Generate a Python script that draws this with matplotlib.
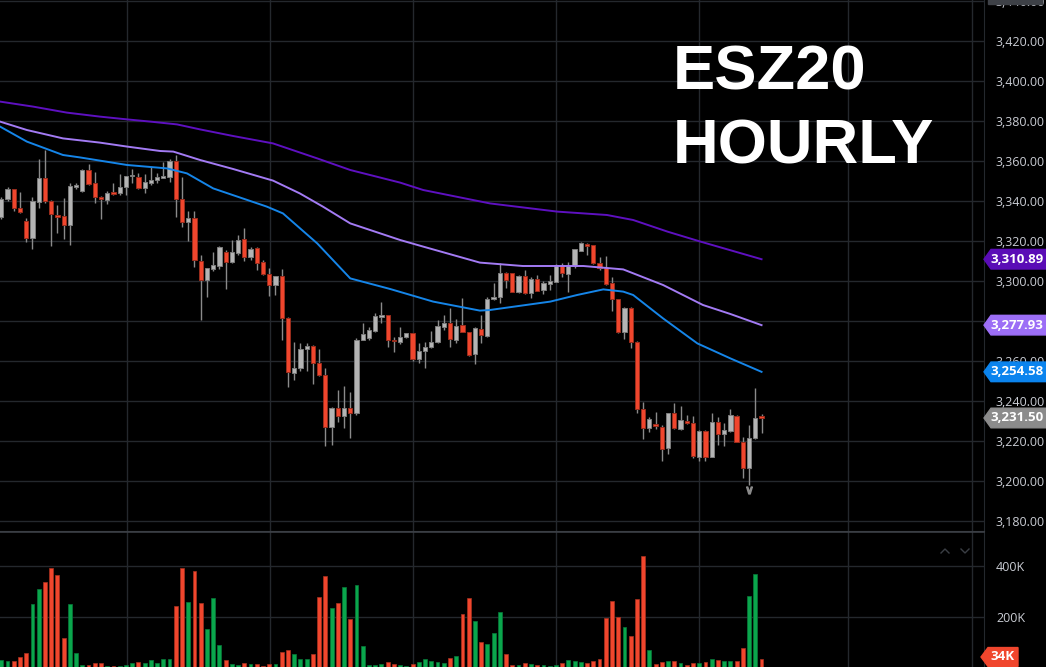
import matplotlib
matplotlib.use("Agg")
import matplotlib.pyplot as plt
import numpy as np
from matplotlib.patches import Polygon, Rectangle
from matplotlib.lines import Line2D

# hourly ESZ20 bars (open, high, low, close)
opens = [3331.8, 3341.2, 3345.8, 3336.3, 3330.2, 3321.7, 3339.7, 3351.7, 3340.0, 3333.2,
         3332.3, 3328.2, 3347.0, 3344.8, 3355.5, 3348.8, 3342.2, 3340.5, 3344.3, 3343.8,
         3346.8, 3352.3, 3352.2, 3346.3, 3349.2, 3350.5, 3351.7, 3352.2, 3360.2, 3340.8,
         3329.3, 3331.5, 3310.2, 3300.5, 3306.0, 3307.7, 3314.3, 3309.3, 3314.2, 3320.8,
         3311.8, 3316.5, 3309.3, 3303.7, 3298.0, 3302.5, 3281.7, 3254.0, 3256.3, 3266.0,
         3267.7, 3258.8, 3253.0, 3227.2, 3236.3, 3232.7, 3236.3, 3233.8, 3270.5, 3271.3,
         3275.2, 3282.2, 3282.8, 3270.5, 3269.7, 3271.8, 3273.8, 3261.2, 3264.8, 3266.8,
         3269.5, 3276.8, 3278.8, 3270.5, 3277.8, 3274.5, 3263.3, 3276.2, 3272.5, 3290.8,
         3291.8, 3303.8, 3303.8, 3294.7, 3302.7, 3294.2, 3300.8, 3295.5, 3298.5, 3299.7,
         3308.2, 3303.5, 3307.5, 3315.2, 3318.5, 3317.8, 3308.8, 3306.3, 3298.8, 3290.8,
         3274.7, 3286.7, 3269.7, 3235.8, 3226.3, 3228.2, 3227.2, 3216.3, 3233.8, 3225.8,
         3230.2, 3229.2, 3212.2, 3225.0, 3212.2, 3229.7, 3223.5, 3225.2, 3232.5, 3219.7,
         3206.3, 3221.3, 3231.8]
highs = [3342.0, 3347.0, 3346.0, 3344.7, 3331.3, 3341.8, 3361.0, 3365.3, 3340.5, 3337.8,
         3341.3, 3348.8, 3349.2, 3355.8, 3358.5, 3354.5, 3342.5, 3345.2, 3349.2, 3353.3,
         3352.5, 3355.8, 3353.8, 3353.3, 3357.2, 3353.8, 3359.7, 3361.0, 3363.0, 3351.8,
         3335.2, 3335.2, 3313.0, 3306.5, 3314.7, 3317.5, 3315.5, 3320.5, 3322.8, 3326.3,
         3317.2, 3317.2, 3310.5, 3306.3, 3302.5, 3306.0, 3282.2, 3269.7, 3268.8, 3268.8,
         3268.0, 3266.0, 3256.3, 3237.2, 3245.5, 3247.7, 3244.7, 3271.3, 3278.8, 3277.2,
         3283.8, 3289.5, 3283.0, 3272.2, 3276.8, 3274.2, 3274.0, 3269.2, 3269.7, 3275.0,
         3280.5, 3282.8, 3286.3, 3281.0, 3291.3, 3274.5, 3277.2, 3283.0, 3291.8, 3298.8,
         3309.2, 3304.7, 3304.0, 3303.0, 3305.5, 3302.2, 3303.0, 3300.0, 3303.0, 3308.5,
         3309.2, 3309.7, 3316.0, 3319.5, 3319.2, 3318.0, 3311.8, 3312.5, 3302.2, 3291.0,
         3286.8, 3287.0, 3270.0, 3239.7, 3232.2, 3234.7, 3228.0, 3234.2, 3238.8, 3237.5,
         3233.0, 3232.5, 3225.5, 3225.5, 3234.2, 3232.2, 3229.2, 3235.8, 3233.0, 3222.2,
         3228.0, 3246.3, 3233.3]
lows = [3331.0, 3340.0, 3335.0, 3333.8, 3319.7, 3315.8, 3336.7, 3338.8, 3317.7, 3323.8,
        3320.8, 3317.8, 3345.8, 3344.5, 3348.0, 3338.8, 3330.8, 3338.5, 3343.0, 3343.0,
        3343.0, 3349.2, 3346.0, 3343.8, 3348.0, 3348.8, 3351.3, 3349.7, 3332.2, 3326.8,
        3320.0, 3306.8, 3280.5, 3291.8, 3305.0, 3306.0, 3295.8, 3308.8, 3313.0, 3310.2,
        3310.5, 3305.5, 3303.0, 3292.7, 3293.0, 3270.5, 3246.8, 3250.5, 3255.2, 3255.0,
        3248.5, 3252.7, 3217.5, 3218.0, 3229.7, 3226.3, 3221.3, 3233.0, 3270.5, 3270.5,
        3274.7, 3278.8, 3267.2, 3264.7, 3268.5, 3271.5, 3260.2, 3259.2, 3256.3, 3266.5,
        3269.2, 3275.5, 3267.2, 3268.8, 3274.5, 3262.5, 3258.5, 3269.2, 3272.2, 3290.5,
        3289.2, 3296.3, 3294.5, 3294.2, 3293.5, 3291.3, 3295.0, 3293.5, 3295.5, 3299.3,
        3301.8, 3294.7, 3306.3, 3314.8, 3312.8, 3308.5, 3305.5, 3298.0, 3285.2, 3274.2,
        3270.8, 3266.3, 3234.2, 3220.8, 3224.7, 3225.8, 3210.0, 3213.5, 3225.8, 3225.5,
        3228.5, 3211.3, 3210.0, 3210.0, 3212.0, 3218.0, 3217.5, 3224.7, 3219.5, 3201.3,
        3198.0, 3221.0, 3223.8]
closes = [3341.0, 3345.8, 3336.3, 3334.3, 3321.7, 3340.0, 3351.7, 3340.2, 3333.3, 3331.8,
          3328.2, 3347.5, 3347.8, 3355.5, 3348.5, 3341.8, 3340.8, 3344.2, 3343.6, 3346.8,
          3352.5, 3352.8, 3346.3, 3349.7, 3350.5, 3352.2, 3352.7, 3360.2, 3340.8, 3329.3,
          3331.3, 3310.5, 3300.5, 3306.3, 3307.8, 3317.2, 3309.3, 3314.3, 3320.5, 3311.8,
          3316.0, 3308.8, 3303.3, 3298.0, 3302.5, 3281.7, 3254.3, 3256.7, 3265.8, 3267.7,
          3258.8, 3253.0, 3226.8, 3236.3, 3232.5, 3236.3, 3233.8, 3270.5, 3273.5, 3275.5,
          3282.7, 3283.0, 3270.5, 3269.8, 3272.0, 3273.8, 3260.8, 3265.0, 3267.0, 3269.5,
          3277.5, 3278.8, 3271.2, 3277.7, 3274.7, 3263.0, 3276.3, 3272.8, 3291.2, 3292.2,
          3303.8, 3300.5, 3294.7, 3302.5, 3294.2, 3301.0, 3295.2, 3298.8, 3300.2, 3308.2,
          3303.8, 3307.5, 3315.8, 3319.0, 3317.7, 3308.8, 3306.3, 3298.5, 3290.8, 3274.7,
          3286.3, 3269.7, 3235.8, 3226.3, 3230.8, 3227.7, 3216.0, 3233.8, 3226.3, 3230.5,
          3228.8, 3212.5, 3225.0, 3212.2, 3229.7, 3223.5, 3225.5, 3233.0, 3219.7, 3206.3,
          3221.3, 3231.3, 3231.5]
# volume in thousands
volume = [30, 27, 26, 43, 56, 251, 310, 335, 390, 363, 116, 251, 59, 9, 9, 17, 20, 8, 7, 7,
          10, 17, 24, 17, 30, 17, 33, 33, 240, 392, 256, 380, 254, 150, 274, 89, 31, 13, 10, 18,
          13, 13, 7, 14, 14, 61, 68, 55, 35, 33, 52, 278, 361, 234, 254, 316, 192, 324, 84, 9,
          9, 16, 21, 14, 9, 7, 14, 21, 33, 25, 21, 17, 39, 44, 210, 272, 184, 99, 93, 135,
          217, 52, 10, 10, 17, 14, 10, 9, 8, 10, 17, 30, 27, 22, 17, 25, 35, 193, 261, 199,
          159, 123, 268, 437, 69, 14, 22, 26, 26, 17, 10, 20, 20, 24, 35, 30, 26, 25, 27, 76,
          281, 366, 34]

# moving averages, read at bar positions
ma_slow_x = [-0.2, 5.1, 10.5, 15.8, 20.2, 23.9, 28.2, 31.9, 37.2, 43.6, 50.7, 56.0, 64.0,
             67.7, 78.4, 89.2, 97.2, 101.4, 106.9, 112.2, 122]
ma_slow = [3389.7, 3387.2, 3384.2, 3382.2, 3380.8, 3379.7, 3378.3, 3375.8, 3372.5, 3368.8,
           3361.3, 3355.5, 3349.2, 3345.5, 3338.8, 3334.7, 3333, 3330.5, 3324.7, 3319.7, 3310.89]
ma_mid_x = [-0.2, 4.1, 9.9, 15.8, 20.2, 25.5, 27.6, 31.9, 37.2, 43.6, 47.9, 51.6, 56.0, 64.0,
            67.7, 76.8, 83.7, 93.4, 99.8, 106.2, 112.6, 117.0, 122]
ma_mid = [3379.7, 3375.5, 3371.3, 3369.2, 3367.2, 3365, 3364.7, 3360.5, 3356, 3350.2, 3343.8,
          3337.2, 3328.8, 3320.5, 3317.2, 3309.2, 3307.5, 3307.5, 3305.8, 3298, 3288, 3283.5,
          3277.93]
ma_fast_x = [-0.2, 4.1, 9.9, 12.6, 20.2, 26.6, 29.8, 34.0, 42.6, 45.2, 50.7, 56.0, 62.4, 69.3,
             76.8, 78.4, 88.1, 92.4, 96.6, 99.8, 101.4, 106.2, 111.7, 117.0, 122]
ma_fast = [3377.2, 3369.7, 3363, 3361.8, 3358, 3356.3, 3353.8, 3346.3, 3337.2, 3333.8, 3318.8,
           3301.3, 3296, 3289.7, 3285.2, 3285.5, 3289.7, 3293, 3295.8, 3294.7, 3293, 3281.3,
           3268.8, 3261.3, 3254.58]

price_ticks = list(range(3180, 3441, 20))
vol_ticks = [200, 400]
day_lines = [20.2, 43.1, 66.1, 89.0, 112.0, 135.9, 155.8]

W, H = 1046, 667
BG = "#000000"
GRID = "#24282d"
TXT = "#c9ccd3"
UP, UP_EDGE = "#b4b4b4", "#7c7c7c"
DN, DN_EDGE = "#f0462d", "#9a2d1d"
VUP, VDN = "#0aa64c", "#f0462d"

fig = plt.figure(figsize=(W / 100, H / 100), dpi=100, facecolor=BG)


def px_axes(l, t, r, b):
    return fig.add_axes([l / W, 1 - b / H, (r - l) / W, (b - t) / H])


ax = px_axes(0, 0, 984, 531)
vax = px_axes(0, 532, 984, 667)

idx = np.arange(len(opens))
o = np.array(opens); c = np.array(closes)
hi = np.array(highs); lo = np.array(lows)
up = c >= o
bot = np.minimum(o, c)
hgt = np.maximum(np.abs(c - o), 0.8)

for a in (ax, vax):
    a.set_facecolor(BG)
    a.set_xlim(-0.21, 157.7)
    a.set_xticks(day_lines)
    a.tick_params(axis="x", length=0, labelbottom=False)
    a.grid(True, color=GRID, lw=1)
    a.set_axisbelow(True)
    for s in ("top", "left"):
        a.spines[s].set_visible(False)
    a.spines["right"].set_color(GRID)
    a.spines["bottom"].set_color("#3a3e44")
    a.yaxis.tick_right()
    a.tick_params(axis="y", length=0, pad=8.6, labelcolor=TXT, labelsize=9)

ax.set_ylim(3175, 3440.5)
ax.set_yticks(price_ticks)
ax.set_yticklabels([f"{p:,.2f}" for p in price_ticks], family="Open Sans")

ax.vlines(idx, lo, hi, color="#8a8a8a", lw=1, zorder=2)
ax.bar(idx[up], hgt[up], bottom=bot[up], width=0.68, color=UP, edgecolor=UP_EDGE, lw=0.7, zorder=3)
ax.bar(idx[~up], hgt[~up], bottom=bot[~up], width=0.68, color=DN, edgecolor=DN_EDGE, lw=0.7, zorder=3)

# low-of-range marker under the lowest bar
low_i = int(np.argmin(lo))
ax.plot(low_i, lo[low_i] - 2.5, marker=r"$\vee$", ms=5, color="#8a8a8a", zorder=4)

ax.plot(ma_slow_x, ma_slow, color="#5e10c0", lw=1.4, zorder=4)
ax.plot(ma_mid_x, ma_mid, color="#a37bf4", lw=1.4, zorder=4)
ax.plot(ma_fast_x, ma_fast, color="#1585e8", lw=1.4, zorder=4)

vax.set_ylim(2.7, 532)
vax.set_yticks(vol_ticks)
vax.set_yticklabels([f"{v}K" for v in vol_ticks], family="Open Sans")
vax.spines["bottom"].set_visible(False)
vax.bar(idx, volume, width=0.62, color=[VUP if u else VDN for u in up],
        edgecolor=["#07793a" if u else "#a8301f" for u in up], lw=0.5, zorder=3)

# separator between panes
fig.add_artist(Line2D([0, 984 / W], [1 - 531.5 / H] * 2, color="#3a3e44", lw=1.2))

# price tags on the right
tag = px_axes(983, 0, 1046, 531)
tag.set_xlim(983, 1046)
tag.set_ylim(3175, 3440.5)
tag.axis("off")
tag.add_patch(Rectangle((988, 3438.3), 54, 3, color="#3e4147"))
hh = 4.9
for val, col in [(ma_slow[-1], "#5a0cb6"), (ma_mid[-1], "#9c6ef6"),
                 (ma_fast[-1], "#0b84ee"), (closes[-1], "#8b8b8b")]:
    tag.add_patch(Polygon([(984, val), (991, val + hh), (1046, val + hh),
                           (1046, val - hh), (991, val - hh)], closed=True, color=col))
    tag.text(1017, val, f"{val:,.2f}", color="white", fontsize=9.5, fontweight="bold",
             ha="center", va="center", family="Open Sans")

vtag = px_axes(980, 532, 1046, 667)
vtag.set_xlim(980, 1046)
vtag.set_ylim(2.7, 532)
vtag.axis("off")
vh = 37
vv = volume[-1] + 8
vtag.add_patch(Polygon([(981, vv), (988, vv + vh), (1018, vv + vh), (1018, vv - vh), (988, vv - vh)],
                       closed=True, color=VDN))
vtag.text(1003, vv, f"{volume[-1]}K", color="white", fontsize=9.5, fontweight="bold",
          ha="center", va="center", family="Open Sans")

# little pane arrows
for xs, ys in [([941, 945, 949], [553, 549, 553]), ([961, 965, 969], [549, 553, 549])]:
    fig.add_artist(Line2D([x / W for x in xs], [1 - y / H for y in ys], color="#3a3e44", lw=1))

fig.text(673 / W, 1 - 90 / H, "ESZ20", fontsize=45.5, fontweight="bold", color="white",
         family="Liberation Sans", va="baseline")
fig.text(673 / W, 1 - 163 / H, "HOURLY", fontsize=45.5, fontweight="bold", color="white",
         family="Liberation Sans", va="baseline")

fig.savefig("out.png", dpi=100, facecolor=BG)
